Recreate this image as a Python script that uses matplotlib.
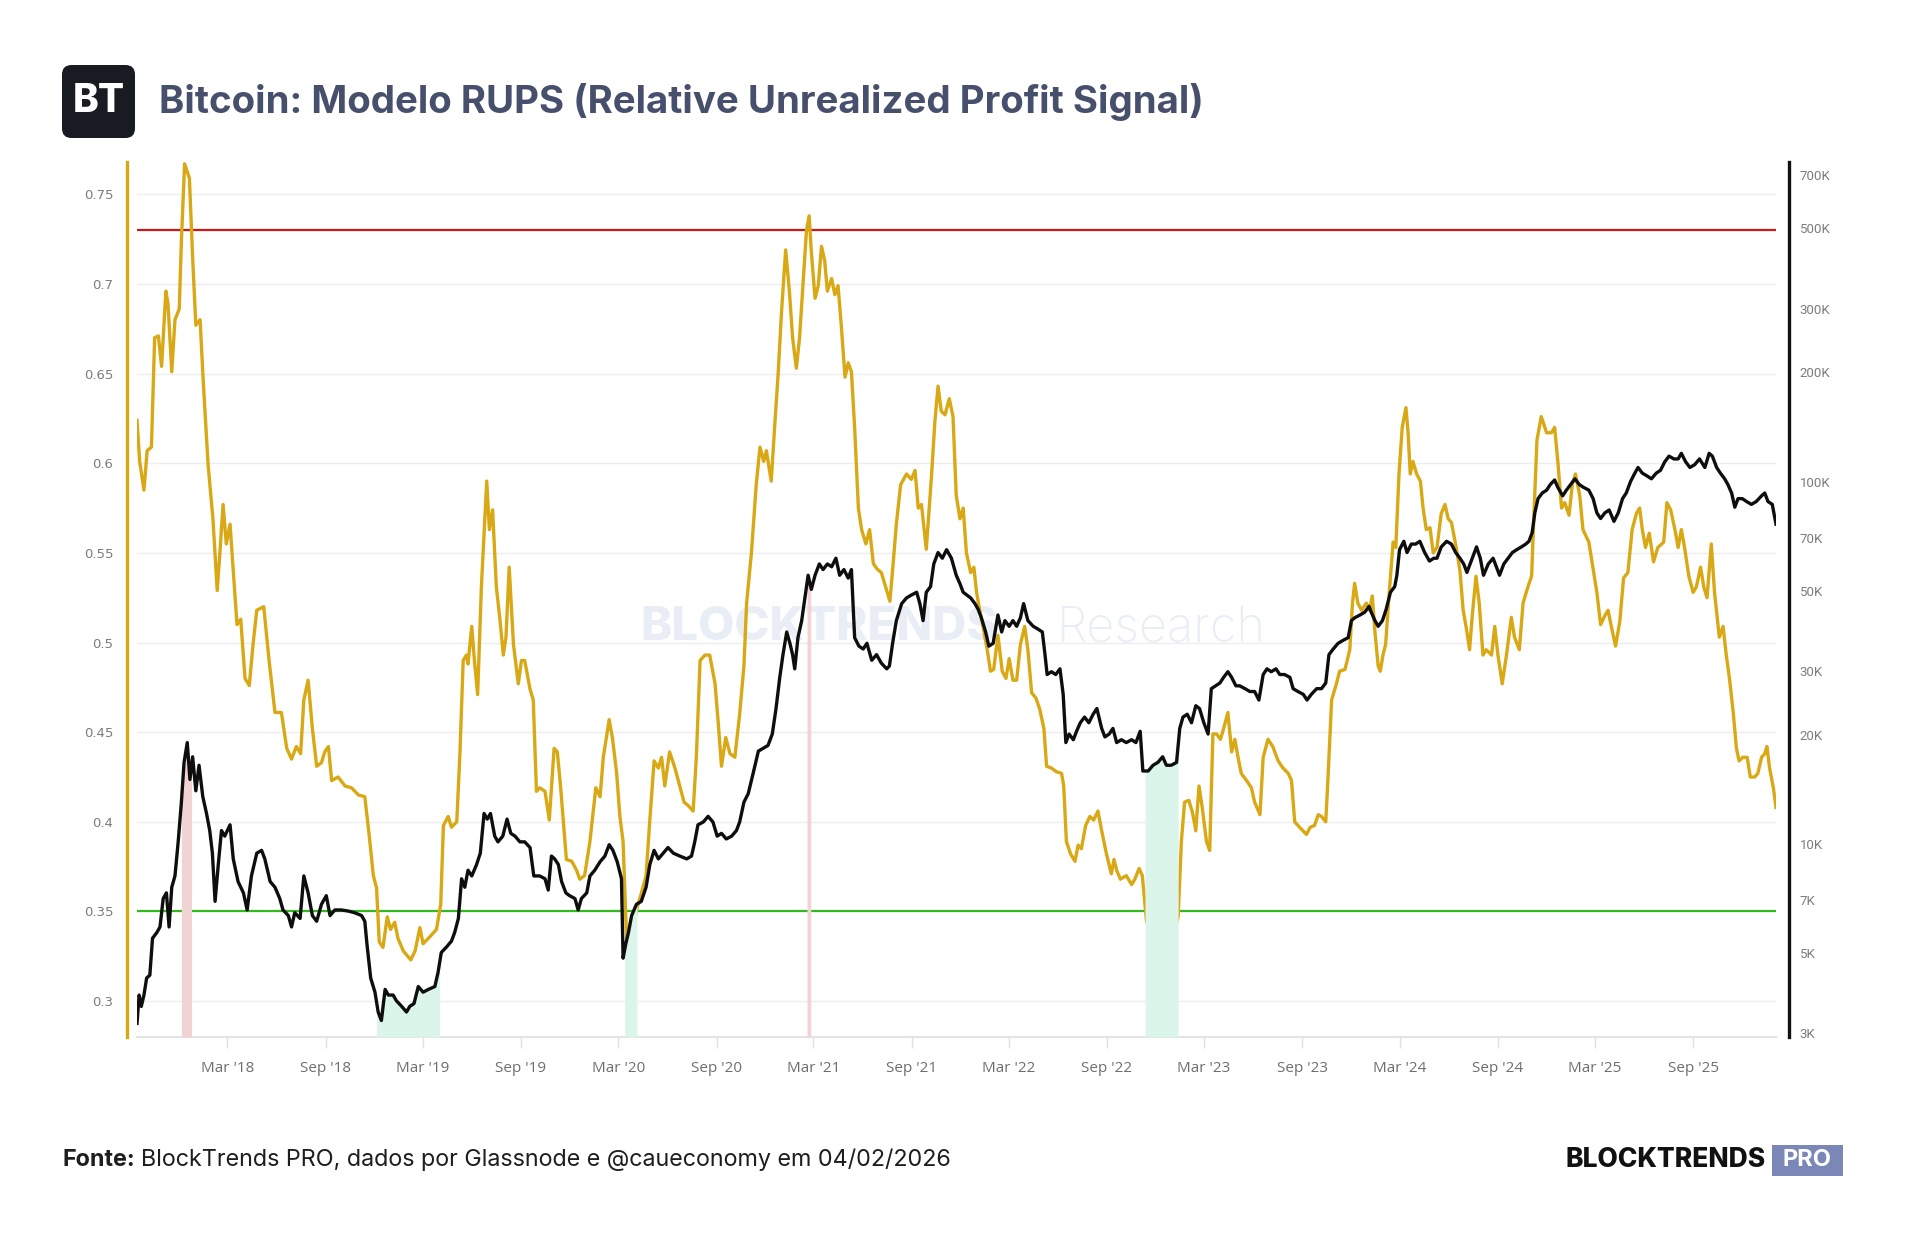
import numpy as np
import pandas as pd
import matplotlib
matplotlib.use('Agg')
import matplotlib.pyplot as plt
import matplotlib.dates as mdates
from matplotlib.patches import FancyBboxPatch
from matplotlib.ticker import FixedLocator, NullLocator

# dias contados a partir de 01/03/2018
T0 = pd.Timestamp('2018-03-01')

# RUPS (eixo esquerdo)
rups_day = [
    -169, -164, -156, -150, -142, -136, -129, -123, -115, -111,
    -104, -98, -90, -86, -80, -71, -65, -59, -51, -45,
    -36, -27, -19, -14, -8, -2, 5, 11, 18, 25,
    33, 41, 48, 55, 68, 78, 89, 101, 111, 120,
    129, 137, 143, 151, 159, 167, 176, 182, 189, 195,
    207, 220, 232, 245, 257, 265, 273, 279, 284, 291,
    299, 305, 313, 319, 329, 343, 351, 360, 366, 379,
    391, 399, 404, 413, 419, 429, 435, 441, 447, 450,
    457, 462, 468, 475, 485, 490, 496, 503, 510, 516,
    521, 527, 535, 544, 550, 556, 566, 572, 578,
    584, 594, 602, 611, 617, 623, 634, 644, 653, 659,
    668, 678, 689, 697, 703, 714, 720, 728, 734, 740,
    745, 750, 756, 765, 774, 783, 790, 798, 806, 812,
    818, 827, 837, 846, 854, 862, 871, 877, 884, 893,
    902, 912, 918, 924, 932, 940, 949, 958, 966, 971,
    980, 989, 996, 1003, 1008, 1017, 1024, 1030, 1036, 1044,
    1051, 1057, 1064, 1070, 1077, 1083, 1088, 1092, 1099, 1105,
    1111, 1117, 1122, 1130, 1136, 1142, 1148, 1155, 1161, 1167,
    1173, 1180, 1186, 1194, 1201, 1208, 1215, 1223, 1231, 1239,
    1245, 1251, 1259, 1270, 1279, 1286, 1292, 1298, 1307, 1317,
    1323, 1329, 1335, 1342, 1350,
    1357, 1363, 1370, 1376, 1382, 1390, 1396, 1401, 1407, 1413,
    1421, 1427, 1433, 1441, 1449, 1456, 1462, 1469, 1476, 1483,
    1491, 1497, 1504, 1512, 1519, 1527, 1532, 1541, 1550, 1560,
    1564, 1569, 1577, 1585, 1591, 1597, 1605, 1613, 1620, 1628,
    1635, 1644, 1653, 1658, 1663, 1670, 1681, 1691, 1697, 1705,
    1711, 1719, 1726, 1734, 1745, 1753, 1762, 1772, 1778, 1784,
    1790, 1798, 1805, 1811, 1817, 1823, 1831, 1837, 1843, 1850,
    1857, 1863, 1871, 1878, 1884, 1890, 1896, 1906, 1915, 1921,
    1931, 1937, 1946, 1955, 1965, 1974, 1984, 1990, 1996, 2005,
    2018, 2025, 2033, 2040, 2046, 2054, 2058, 2065, 2074, 2080,
    2090, 2099, 2104, 2108, 2114, 2121, 2130,
    2136, 2141, 2146, 2152, 2156, 2161, 2166, 2172, 2180, 2185,
    2191, 2197, 2204, 2208, 2212, 2217, 2224, 2231, 2236, 2242,
    2249, 2255, 2262, 2270, 2277, 2283, 2289, 2298, 2305, 2311,
    2318, 2323, 2328, 2335, 2341, 2348, 2354, 2364, 2370, 2376,
    2384, 2392, 2401, 2407, 2416, 2423, 2432, 2439, 2443, 2449,
    2457, 2467, 2476, 2482, 2488, 2495, 2501, 2509, 2515, 2521,
    2529, 2535, 2546, 2554, 2561, 2568, 2576, 2582, 2588, 2596,
    2604, 2611, 2619, 2627, 2635, 2641, 2646, 2652, 2659, 2667,
    2675, 2686, 2692, 2699, 2707, 2713, 2719, 2725, 2733, 2741,
    2747, 2755, 2761, 2767, 2775, 2781, 2790, 2797, 2803, 2809,
    2816, 2822, 2827, 2834, 2842, 2848, 2856, 2862, 2869, 2875,
    2879, 2884, 2891, 2896,
]
rups_val = [
    0.624, 0.601, 0.585, 0.607, 0.609, 0.670, 0.671, 0.654, 0.696, 0.689,
    0.651, 0.680, 0.686, 0.724, 0.767, 0.759, 0.715, 0.677, 0.680, 0.645,
    0.599, 0.569, 0.529, 0.550, 0.577, 0.555, 0.566, 0.540, 0.510, 0.513,
    0.480, 0.476, 0.499, 0.518, 0.520, 0.490, 0.461, 0.461, 0.441, 0.435,
    0.442, 0.438, 0.468, 0.479, 0.452, 0.431, 0.433, 0.439, 0.442, 0.423,
    0.425, 0.420, 0.419, 0.415, 0.414, 0.393, 0.370, 0.363, 0.333, 0.330,
    0.347, 0.340, 0.344, 0.335, 0.328, 0.323, 0.328, 0.341, 0.332, 0.336,
    0.340, 0.354, 0.398, 0.403, 0.397, 0.400, 0.439, 0.490, 0.493, 0.488,
    0.509, 0.490, 0.471, 0.531, 0.590, 0.563, 0.574, 0.531, 0.512, 0.493,
    0.503, 0.542, 0.499, 0.477, 0.490, 0.490, 0.474, 0.468, 0.417,
    0.419, 0.417, 0.401, 0.441, 0.439, 0.420, 0.379, 0.378, 0.373, 0.368,
    0.370, 0.389, 0.419, 0.414, 0.436, 0.457, 0.447, 0.427, 0.403, 0.389,
    0.347, 0.314, 0.335, 0.351, 0.360, 0.370, 0.401, 0.434, 0.430, 0.436,
    0.420, 0.439, 0.430, 0.420, 0.411, 0.409, 0.406, 0.436, 0.490, 0.493,
    0.493, 0.477, 0.455, 0.431, 0.447, 0.438, 0.436, 0.460, 0.487, 0.522,
    0.550, 0.588, 0.609, 0.601, 0.607, 0.590, 0.623, 0.650, 0.683, 0.719,
    0.696, 0.670, 0.653, 0.670, 0.702, 0.730, 0.738, 0.718, 0.692, 0.699,
    0.721, 0.713, 0.696, 0.703, 0.694, 0.699, 0.677, 0.648, 0.656, 0.651,
    0.620, 0.575, 0.563, 0.555, 0.563, 0.544, 0.541, 0.539, 0.531, 0.523,
    0.544, 0.566, 0.588, 0.594, 0.591, 0.596, 0.575, 0.577, 0.552, 0.594,
    0.623, 0.643, 0.629, 0.627, 0.636,
    0.626, 0.582, 0.569, 0.575, 0.550, 0.539, 0.542, 0.528, 0.518, 0.509,
    0.496, 0.484, 0.485, 0.504, 0.484, 0.480, 0.491, 0.479, 0.479, 0.499,
    0.509, 0.496, 0.472, 0.469, 0.463, 0.452, 0.431, 0.430, 0.428, 0.427,
    0.420, 0.389, 0.382, 0.378, 0.387, 0.385, 0.398, 0.403, 0.401, 0.406,
    0.395, 0.382, 0.371, 0.379, 0.373, 0.368, 0.370, 0.365, 0.368, 0.374,
    0.370, 0.344, 0.341, 0.343, 0.347, 0.343, 0.340, 0.340, 0.347, 0.389,
    0.411, 0.412, 0.405, 0.395, 0.420, 0.408, 0.389, 0.384, 0.449, 0.449,
    0.446, 0.452, 0.461, 0.439, 0.446, 0.436, 0.427, 0.423, 0.419, 0.411,
    0.404, 0.436, 0.446, 0.442, 0.434, 0.430, 0.427, 0.423, 0.400, 0.397,
    0.393, 0.397, 0.398, 0.404, 0.403, 0.400, 0.423, 0.468, 0.477, 0.484,
    0.485, 0.496, 0.522, 0.533, 0.522, 0.518, 0.522,
    0.518, 0.526, 0.506, 0.487, 0.484, 0.493, 0.499, 0.525, 0.556, 0.553,
    0.594, 0.620, 0.631, 0.617, 0.594, 0.601, 0.594, 0.590, 0.575, 0.563,
    0.564, 0.550, 0.553, 0.572, 0.577, 0.569, 0.567, 0.553, 0.540, 0.518,
    0.506, 0.496, 0.515, 0.537, 0.522, 0.493, 0.496, 0.493, 0.509, 0.493,
    0.477, 0.493, 0.514, 0.503, 0.496, 0.522, 0.531, 0.537, 0.569, 0.613,
    0.626, 0.617, 0.617, 0.620, 0.601, 0.575, 0.578, 0.571, 0.588, 0.594,
    0.582, 0.563, 0.556, 0.541, 0.528, 0.510, 0.515, 0.518, 0.509, 0.498,
    0.512, 0.536, 0.539, 0.563, 0.572, 0.575, 0.563, 0.553, 0.561, 0.545,
    0.553, 0.556, 0.578, 0.574, 0.563, 0.553, 0.563, 0.553, 0.537, 0.528,
    0.531, 0.542, 0.531, 0.525, 0.555, 0.528, 0.503, 0.509, 0.493, 0.480,
    0.461, 0.441, 0.434, 0.436, 0.436, 0.425, 0.425, 0.427, 0.436, 0.438,
    0.442, 0.430, 0.419, 0.408,
]

# preco do BTC em USD (eixo direito, log)
btc_day = [
    -169, -165, -161, -156, -151, -145, -140, -132, -126, -120,
    -114, -109, -104, -98, -92, -86, -81, -75, -70, -65,
    -59, -53, -46, -39, -33, -28, -23, -17, -11, -5,
    5, 11, 20, 30, 37, 45, 55, 64, 70, 80,
    89, 98, 104, 114, 120, 126, 136, 143, 151, 159,
    167, 176, 185, 192, 201, 213, 226, 238, 251, 257,
    261, 268, 276, 282, 288, 295, 301, 310, 316, 326,
    335, 341, 349, 357, 366, 376, 388, 394, 400, 410,
    419, 425, 432, 438, 444, 450, 457, 466, 473, 480,
    486, 492, 500, 506, 515, 523, 530, 538, 547, 556,
    566, 573,
    584, 594, 600, 606, 612, 619, 625, 633, 640, 650,
    656, 662, 672, 678, 687, 697, 706, 714, 721, 729,
    737, 740, 745, 750, 756, 765, 774, 783, 790, 798,
    806, 815, 824, 834, 846, 859, 868, 874, 880, 890,
    899, 908, 916, 924, 933, 943, 952, 958, 966, 974,
    983, 993, 1002, 1011, 1019, 1026, 1033, 1039, 1046, 1052,
    1057, 1061, 1067, 1074, 1080, 1086, 1092, 1099, 1107, 1114,
    1122, 1130, 1138, 1145, 1153, 1161, 1167, 1173, 1181, 1189,
    1196, 1205, 1214, 1223, 1233, 1238, 1244, 1251, 1261, 1270,
    1279, 1289, 1295, 1301, 1307, 1315, 1321, 1329, 1337, 1345,
    1354,
    1363, 1370, 1376, 1383, 1390, 1398, 1404, 1410, 1418, 1424,
    1432, 1441, 1448, 1454, 1462, 1469, 1476, 1483, 1489, 1497,
    1507, 1516, 1524, 1529, 1533, 1541, 1549, 1557, 1563, 1568,
    1574, 1582, 1588, 1595, 1603, 1611, 1619, 1626, 1635, 1641,
    1649, 1656, 1663, 1672, 1681, 1691, 1699, 1707, 1712, 1722,
    1731, 1740, 1749, 1756, 1765, 1775, 1781, 1787, 1795, 1803,
    1811, 1818, 1826, 1834, 1840, 1848, 1856, 1863, 1871, 1878,
    1886, 1893, 1903, 1912, 1921, 1929, 1937, 1944, 1952, 1961,
    1968, 1977, 1987, 1993, 2002, 2012, 2019, 2027, 2037, 2046,
    2054, 2060, 2068, 2077, 2086, 2096, 2102, 2108, 2118, 2127,
    2135,
    2139, 2146, 2152, 2160, 2167, 2175, 2183, 2187, 2192, 2200,
    2206, 2214, 2222, 2230, 2239, 2248, 2256, 2262, 2270, 2280,
    2289, 2297, 2305, 2312, 2318, 2326, 2336, 2343, 2349, 2358,
    2367, 2373, 2379, 2387, 2395, 2403, 2411, 2420, 2428, 2434,
    2440, 2445, 2451, 2459, 2467, 2474, 2482, 2488, 2497, 2504,
    2512, 2520, 2528, 2536, 2546, 2554, 2561, 2568, 2576, 2584,
    2593, 2601, 2609, 2616, 2624, 2632, 2638, 2646, 2655, 2663,
    2672, 2680, 2688, 2696, 2705, 2713, 2719, 2727, 2735, 2744,
    2753, 2763, 2771, 2777, 2785, 2792, 2800, 2806, 2813, 2819,
    2825, 2833, 2841, 2850, 2859, 2869, 2875, 2881, 2889, 2896,
]
btc_usd = [
    3195, 3825, 3559, 3825, 4262, 4340, 5487, 5689, 5897, 7062,
    7322, 5897, 7590, 8155, 10127, 13035, 16776, 19032, 15052, 17391,
    14009, 16478, 13511, 12128, 10884, 9423, 6937, 8766, 10884, 10500,
    11285, 9088, 7868, 7322, 6570, 8155, 9423, 9594, 9088, 7868,
    7590, 7062, 6570, 6339, 5897, 6454, 6225, 8155, 7322, 6339,
    6114, 6811, 7193, 6339, 6570, 6570, 6524, 6454, 6339, 6114,
    5292, 4262, 3895, 3434, 3253, 3966, 3825, 3825, 3690, 3559,
    3434, 3559, 3624, 4038, 3895, 3966, 4038, 4419, 5012, 5196,
    5387, 5689, 6225, 8010, 7590, 8456, 8155, 8766, 9423, 12128,
    11700, 12128, 10500, 10127, 10500, 11700, 10690, 10500, 10127, 10127,
    9768, 8155,
    8155, 8010, 7455, 9255, 9088, 8766, 7868, 7322, 7193, 7062,
    6568, 7062, 7322, 8155, 8456, 8925, 9255, 9947, 9594, 8925,
    8010, 4836, 5291, 5689, 6339, 6811, 6937, 7590, 8766, 9594,
    9088, 9423, 9768, 9423, 9255, 9088, 9255, 10127, 11285, 11490,
    11910, 11490, 10500, 10690, 10315, 10500, 10884, 11490, 13035, 13755,
    15609, 18027, 18357, 18690, 20093, 23627, 28804, 33281, 38439, 35764,
    33281, 30410, 37077, 41315, 47720, 55123, 50384, 55123, 59227, 57143,
    59227, 58180, 61418, 55123, 57143, 54143, 57143, 37077, 35130, 34500,
    35764, 32110, 33281, 31520, 30410, 30962, 35764, 41315, 46035, 47720,
    48600, 49480, 46035, 41315, 49480, 51290, 59227, 63680, 61418, 64840,
    61418,
    55123, 52220, 49480, 48600, 47720, 46035, 44400, 42060, 38439, 35130,
    35764, 42820, 38439, 41315, 39850, 41315, 39850, 42060, 46035, 41315,
    39850, 39140, 38439, 33281, 29330, 29860, 29330, 30410, 25860, 19032,
    20093, 19380, 20450, 21590, 22380, 21590, 22790, 23627, 20825, 19730,
    20093, 20825, 19032, 19380, 19032, 19380, 19032, 20450, 15890, 15890,
    16478, 16776, 17391, 16478, 16478, 16776, 20825, 22380, 22790, 21590,
    24058, 23627, 21590, 20093, 26810, 27300, 27790, 28804, 29860, 28804,
    27300, 27300, 26810, 26330, 26330, 24940, 29330, 30410, 29860, 30410,
    29330, 29330, 28804, 26810, 26330, 25860, 24940, 25860, 26810, 26810,
    27790, 33281, 34500, 35764, 36420, 37077, 41315, 42060, 42820, 43610,
    45220,
    43610, 41315, 39850, 41315, 44400, 49480, 51290, 55123, 64840, 68390,
    63680, 67200, 67200, 68390, 63680, 60330, 61418, 61418, 66010, 68390,
    67200, 63680, 61418, 59227, 56130, 60330, 66010, 61418, 55123, 59227,
    61418, 58180, 55123, 59227, 61418, 63680, 64840, 66010, 67200, 68390,
    72250, 81950, 89700, 92980, 94670, 98150, 101000, 96380, 91310, 94670,
    98150, 101740, 98150, 96380, 94670, 89700, 81950, 79060, 81950, 83450,
    77650, 81950, 89700, 92980, 100000, 105480, 109340, 105480, 103590, 101740,
    105480, 107400, 113370, 117530, 115440, 115440, 119640, 113370, 109340, 111340,
    115440, 109340, 119640, 117530, 109340, 105480, 101740, 98150, 92980, 84960,
    89700, 89700, 88060, 86490, 88060, 91310, 92980, 88060, 86490, 76270,
]
assert len(rups_day) == len(rups_val)
assert len(btc_day) == len(btc_usd)

TOP_LEVEL = 0.73
BOTTOM_LEVEL = 0.35

# periodos de sinal (inicio, fim) em dias desde T0
red_spans = [(-86, -67), (1084, 1091)]
green_spans = [(279, 397), (743, 766), (1716, 1778)]

left_ticks = [0.3, 0.35, 0.4, 0.45, 0.5, 0.55, 0.6, 0.65, 0.7, 0.75]
left_labels = ['0.3', '0.35', '0.4', '0.45', '0.5', '0.55', '0.6', '0.65', '0.7', '0.75']
right_ticks = [3e3, 5e3, 7e3, 1e4, 2e4, 3e4, 5e4, 7e4, 1e5, 2e5, 3e5, 5e5, 7e5]
right_labels = ['3K', '5K', '7K', '10K', '20K', '30K', '50K', '70K',
                '100K', '200K', '300K', '500K', '700K']
x_ticks = ['2018-03-01', '2018-09-01', '2019-03-01', '2019-09-01', '2020-03-01',
           '2020-09-01', '2021-03-01', '2021-09-01', '2022-03-01', '2022-09-01',
           '2023-03-01', '2023-09-01', '2024-03-01', '2024-09-01', '2025-03-01',
           '2025-09-01']
x_labels = ["Mar '18", "Sep '18", "Mar '19", "Sep '19", "Mar '20", "Sep '20",
            "Mar '21", "Sep '21", "Mar '22", "Sep '22", "Mar '23", "Sep '23",
            "Mar '24", "Sep '24", "Mar '25", "Sep '25"]

YELLOW = '#d9a815'
RED = '#c81a1a'
GREEN = '#33b81e'
PINK = '#f2d3d3'
MINT = '#dcf5ea'
TITLE_C = '#464f6c'

W, H = 1920, 1254
fig = plt.figure(figsize=(W / 100, H / 100), dpi=100)
fig.patch.set_facecolor('white')


def fx(px):
    return px / W


def fy(px):
    return 1 - px / H


ax = fig.add_axes([fx(137), fy(1037), (1776 - 137) / W, (1037 - 162) / H])
ax2 = ax.twinx()

rups_dates = T0 + pd.to_timedelta(rups_day, unit='D')
btc_dates = T0 + pd.to_timedelta(btc_day, unit='D')

ax.plot(rups_dates, rups_val, color=YELLOW, lw=2.4, zorder=3)
ax.axhline(TOP_LEVEL, color=RED, lw=1.6, zorder=2)
ax.axhline(BOTTOM_LEVEL, color=GREEN, lw=1.6, zorder=2)

ax2.set_yscale('log')
ylo, yhi = 2930, 762000
ax2.set_ylim(ylo, yhi)

# areas sombreadas abaixo do preco
bd = mdates.date2num(btc_dates)
lp = np.log10(btc_usd)
for spans, col in ((red_spans, PINK), (green_spans, MINT)):
    for a, b in spans:
        xa = mdates.date2num(T0 + pd.Timedelta(days=a))
        xb = mdates.date2num(T0 + pd.Timedelta(days=b))
        m = (bd > xa) & (bd < xb)
        xs = np.r_[xa, bd[m], xb]
        ys = 10 ** np.interp(xs, bd, lp)
        ax2.fill_between(xs, ylo, ys, color=col, lw=0, zorder=1)

ax2.plot(btc_dates, btc_usd, color='#0e0e0e', lw=2.4, zorder=3)

ax.set_xlim(rups_dates.min(), rups_dates.max())
ax.set_ylim(0.28, 0.768)

# eixo esquerdo
ax.set_yticks(left_ticks)
ax.set_yticklabels(left_labels)
ax.grid(axis='y', color='#ededed', lw=1)
ax.set_axisbelow(True)
ax.tick_params(axis='y', length=0, pad=10, labelsize=9.5, labelcolor='#7c7c7c')
for lab in ax.get_yticklabels():
    lab.set_family('Roboto')
ax.spines['left'].set_position(('outward', 7))
ax.spines['left'].set_color(YELLOW)
ax.spines['left'].set_linewidth(2.4)
ax.spines['top'].set_visible(False)
ax.spines['right'].set_visible(False)
ax.spines['bottom'].set_color('#e3e3e3')
ax.spines['bottom'].set_linewidth(1.5)

# eixo x
ax.set_xticks(pd.to_datetime(x_ticks))
ax.set_xticklabels(x_labels)
ax.tick_params(axis='x', length=8, width=1, color='#e0e0e0', pad=9,
               labelsize=11, labelcolor='#6e6e6e')
for lab in ax.get_xticklabels():
    lab.set_family('Open Sans')

# eixo direito
for s in ('left', 'top', 'bottom'):
    ax2.spines[s].set_visible(False)
ax2.spines['right'].set_position(('outward', 9))
ax2.spines['right'].set_color('#111111')
ax2.spines['right'].set_linewidth(2.4)
ax2.yaxis.set_major_locator(FixedLocator(right_ticks))
ax2.yaxis.set_minor_locator(NullLocator())
ax2.set_yticklabels(right_labels)
ax2.tick_params(axis='y', length=0, pad=8, labelsize=9.5, labelcolor='#7c7c7c')
for lab in ax2.get_yticklabels():
    lab.set_family('Roboto')

# marca d'agua
ax.text(fx(998), fy(628), 'BLOCKTRENDS', transform=fig.transFigure, ha='right',
        va='center', fontsize=34, fontweight='heavy', color='#e9edf5',
        family='Inter', zorder=1)
ax.text(fx(1057), fy(628), 'Research', transform=fig.transFigure, ha='left',
        va='center', fontsize=35, fontweight='light', color='#e9edf5',
        family='Inter', zorder=1)

# logo e titulo
lax = fig.add_axes([fx(62), fy(138), 73 / W, 73 / H])
lax.set_axis_off()
lax.add_patch(FancyBboxPatch((0, 0), 1, 1, boxstyle='round,pad=0,rounding_size=0.13',
                             transform=lax.transAxes, fc='#181b22', ec='none'))
lax.text(0.5, 0.5, 'BT', ha='center', va='center', color='white', fontsize=28,
         fontweight='heavy', family='Inter')

fig.text(fx(159), fy(102), 'Bitcoin: Modelo RUPS (Relative Unrealized Profit Signal)',
         fontsize=27.7, fontweight='bold', color=TITLE_C, va='center', family='Inter')

# rodape
fonte = fig.text(fx(62), fy(1160), 'Fonte:', fontsize=16.8, fontweight='bold',
                 color='#1e1e1e', va='center', family='Inter')
fig.canvas.draw()
bb = fonte.get_window_extent()
fig.text((bb.x1 + 6) / W, fy(1160),
         'BlockTrends PRO, dados por Glassnode e @caueconomy em 04/02/2026',
         fontsize=16.8, color='#1e1e1e', va='center', family='Inter')

fig.text(fx(1766), fy(1160), 'BLOCKTRENDS', fontsize=19, fontweight='heavy',
         color='#111111', ha='right', va='center', family='Inter')
pax = fig.add_axes([fx(1772), fy(1176), 71 / W, 31 / H])
pax.set_axis_off()
pax.add_patch(plt.Rectangle((0, 0), 1, 1, transform=pax.transAxes, fc='#7a87b7', ec='none'))
pax.text(0.5, 0.5, 'PRO', ha='center', va='center', color='white', fontsize=17,
         fontweight='bold', family='Inter')

fig.savefig('out.png', dpi=100, facecolor='white')
